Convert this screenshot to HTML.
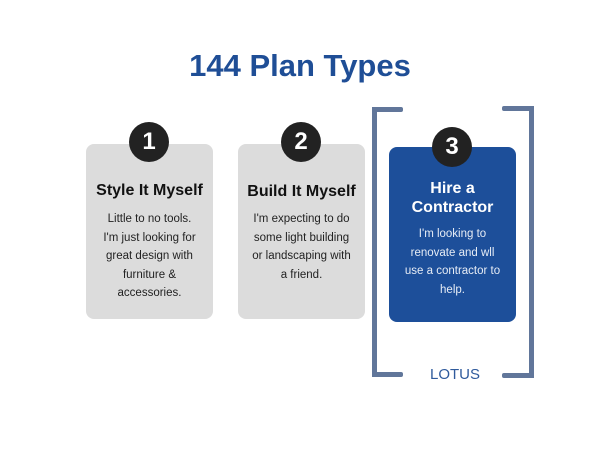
<!DOCTYPE html>
<html><head><style>
body{margin:0;width:600px;height:450px;background:#fff;position:relative;font-family:"Liberation Sans",sans-serif;overflow:hidden}
.t{position:absolute;left:0;width:600px;top:48px;text-align:center;font-weight:bold;font-size:31px;color:#1f4e96}
.card{position:absolute;width:127px;height:175px;border-radius:8px;background:#dcdcdc;text-align:center}
.c{position:absolute;width:40px;height:40px;border-radius:50%;background:#222;color:#fff;font-weight:bold;font-size:24px;line-height:40px;text-align:center}
.h{font-weight:bold;font-size:16px;color:#111;line-height:19px}
.p{font-size:11.5px;line-height:18.5px;color:#222}
.b{position:absolute;background:#61769a}
</style></head><body>
<div class="t">144 Plan Types</div>
<div class="card" style="left:86px;top:144px"><div class="h" style="margin-top:37px">Style It Myself</div><div class="p" style="margin-top:10px">Little to no tools.<br>I'm just looking for<br>great design with<br>furniture &amp;<br>accessories.</div></div>
<div class="card" style="left:238px;top:144px"><div class="h" style="margin-top:38px">Build It Myself</div><div class="p" style="margin-top:9px">I'm expecting to do<br>some light building<br>or landscaping with<br>a friend.</div></div>
<div class="card" style="left:389px;top:147px;background:#1d4f9a"><div class="h" style="margin-top:32px;color:#fff">Hire a<br>Contractor</div><div class="p" style="margin-top:8px;color:#e6ecf5">I'm looking to<br>renovate and wll<br>use a contractor to<br>help.</div></div>
<div class="c" style="left:129px;top:122px">1</div>
<div class="c" style="left:281px;top:122px">2</div>
<div class="c" style="left:432px;top:127px">3</div>
<div class="b" style="left:372px;top:107px;width:5px;height:270px"></div>
<div class="b" style="left:372px;top:107px;width:31px;height:5px;border-radius:2px"></div>
<div class="b" style="left:372px;top:372px;width:31px;height:5px;border-radius:2px"></div>
<div class="b" style="left:529px;top:106px;width:5px;height:272px"></div>
<div class="b" style="left:502px;top:106px;width:32px;height:5px;border-radius:2px"></div>
<div class="b" style="left:502px;top:373px;width:32px;height:5px;border-radius:2px"></div>
<div style="position:absolute;left:400px;width:110px;top:366px;text-align:center;font-size:15px;color:#2f5a9c">LOTUS</div>
</body></html>
